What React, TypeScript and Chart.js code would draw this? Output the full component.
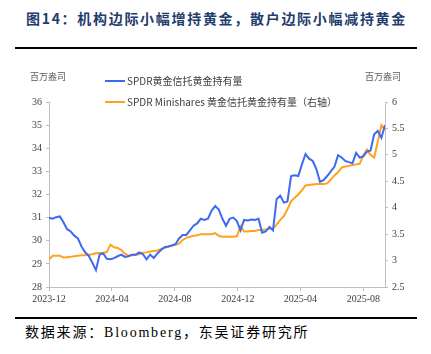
import React, { useEffect, useRef } from "react";
import { Chart, registerables } from "chart.js";

Chart.register(...registerables);

const dates: string[] = [
  "2023-12-01", "2023-12-08", "2023-12-15", "2023-12-22", "2023-12-29",
  "2024-01-05", "2024-01-12", "2024-01-19", "2024-01-26", "2024-02-02", "2024-02-09", "2024-02-16", "2024-02-23",
  "2024-03-01", "2024-03-08", "2024-03-15", "2024-03-22", "2024-03-29", "2024-04-05", "2024-04-12", "2024-04-19",
  "2024-04-26", "2024-05-03", "2024-05-10", "2024-05-17", "2024-05-24", "2024-05-31", "2024-06-07", "2024-06-14",
  "2024-06-21", "2024-06-28", "2024-07-05", "2024-07-12", "2024-07-19", "2024-07-26", "2024-08-02", "2024-08-09",
  "2024-08-16", "2024-08-23", "2024-08-30", "2024-09-06", "2024-09-13", "2024-09-20", "2024-09-27", "2024-10-04",
  "2024-10-11", "2024-10-18", "2024-10-25", "2024-11-01", "2024-11-08", "2024-11-15", "2024-11-22", "2024-11-29",
  "2024-12-06", "2024-12-13", "2024-12-20", "2024-12-27",
  "2025-01-03", "2025-01-10", "2025-01-17", "2025-01-24", "2025-01-31", "2025-02-07", "2025-02-14", "2025-02-21",
  "2025-02-28", "2025-03-07", "2025-03-14", "2025-03-21", "2025-03-28", "2025-04-04", "2025-04-11", "2025-04-18",
  "2025-04-25", "2025-05-02", "2025-05-09", "2025-05-16", "2025-05-23", "2025-05-30", "2025-06-06", "2025-06-13",
  "2025-06-20", "2025-06-27", "2025-07-04", "2025-07-11", "2025-07-18", "2025-07-25", "2025-08-01", "2025-08-08",
  "2025-08-15", "2025-08-22", "2025-08-29", "2025-09-05", "2025-09-12",
];

// SPDR Gold Trust holdings (million oz, left axis)
const gldHoldings: number[] = [
  31.0, 30.95, 31.02, 31.05, 30.8, 30.5, 30.4, 30.22, 30.1, 29.75, 29.5, 29.35, 29.05,
  28.73, 29.4, 29.45, 29.22, 29.2, 29.25, 29.33, 29.4, 29.3, 29.33, 29.4, 29.4, 29.5, 29.42,
  29.2, 29.4, 29.25, 29.45, 29.6, 29.72, 29.75, 29.8, 29.85, 30.1, 30.25, 30.25, 30.45, 30.65,
  30.75, 30.95, 30.9, 30.95, 31.3, 31.5, 31.35, 30.95, 30.65, 30.95, 31.0, 30.85, 30.45, 30.9,
  30.88, 30.92, 30.9, 30.95, 30.35, 30.4, 30.6, 30.45, 31.8, 31.95, 31.65, 31.7, 32.8, 32.83,
  32.8, 33.3, 33.75, 33.55, 33.45, 33.1, 32.55, 32.62, 32.8, 33.0, 33.2, 33.7, 33.6, 33.45,
  33.4, 33.35, 33.8, 33.6, 33.65, 33.85, 33.9, 34.6, 34.75, 34.45, 35.0,
];

// SPDR Gold MiniShares holdings (million oz, right axis)
const gldmHoldings: number[] = [
  3.02, 3.09, 3.09, 3.09, 3.06, 3.065, 3.07, 3.08, 3.09, 3.1, 3.1, 3.11, 3.12,
  3.14, 3.145, 3.15, 3.16, 3.3, 3.25, 3.24, 3.2, 3.13, 3.09, 3.1, 3.11, 3.12, 3.15,
  3.155, 3.17, 3.18, 3.19, 3.22, 3.24, 3.26, 3.28, 3.3, 3.32, 3.39, 3.43, 3.45, 3.47,
  3.48, 3.5, 3.5, 3.5, 3.5, 3.52, 3.47, 3.45, 3.45, 3.45, 3.45, 3.46, 3.65, 3.55,
  3.55, 3.56, 3.56, 3.58, 3.58, 3.59, 3.6, 3.61, 3.68, 3.77, 3.84, 3.97, 4.12, 4.19,
  4.25, 4.33, 4.42, 4.43, 4.44, 4.45, 4.45, 4.45, 4.46, 4.53, 4.61, 4.67, 4.76, 4.78,
  4.79, 4.81, 4.82, 4.83, 5.0, 5.1, 5.0, 4.95, 5.25, 5.56, 5.48,
];

const tickDates: string[] = ["2023-12-01", "2024-04-01", "2024-08-01", "2024-12-01", "2025-04-01", "2025-08-01"];
const tickLabels: string[] = ["2023-12", "2024-04", "2024-08", "2024-12", "2025-04", "2025-08"];

const seriesNames: string[] = ["SPDR黄金信托黄金持有量", "SPDR Minishares 黄金信托黄金持有量（右轴）"];
const unitLabel = "百万盎司";
const titleText = "图14：机构边际小幅增持黄金，散户边际小幅减持黄金";
const sourceText = "数据来源：Bloomberg，东吴证券研究所";

const BLUE = "#3d6af5";
const ORANGE = "#ffa21c";

const DAY = 86400000;
const origin = Date.UTC(2023, 11, 1);
const toDay = (s: string) => {
  const [y, m, d] = s.split("-").map(Number);
  return Math.round((Date.UTC(y, m - 1, d) - origin) / DAY);
};

export default function App() {
  const ref = useRef<HTMLCanvasElement | null>(null);

  useEffect(() => {
    if (!ref.current) return;
    const xs = dates.map(toDay);
    const tickDays = tickDates.map(toDay);

    const overlay = {
      id: "overlay",
      afterDraw(chart: any) {
        const ctx = chart.ctx;
        ctx.save();
        ctx.fillStyle = "#595959";
        ctx.font = '9px "Noto Sans CJK SC"';
        ctx.textBaseline = "middle";
        ctx.textAlign = "left";
        ctx.fillText(unitLabel, 30, 17);
        ctx.fillText(unitLabel, 365, 17);
        const rows = [
          { color: BLUE, y: 21, text: seriesNames[0] },
          { color: ORANGE, y: 42, text: seriesNames[1] },
        ];
        ctx.font = '10px "Noto Sans CJK SC"';
        ctx.fillStyle = "#404040";
        rows.forEach((r) => {
          ctx.strokeStyle = r.color;
          ctx.lineWidth = 2;
          ctx.beginPath();
          ctx.moveTo(105, r.y);
          ctx.lineTo(125, r.y);
          ctx.stroke();
          ctx.fillText(r.text, 127, r.y);
        });
        ctx.restore();
      },
    };

    const tickFont = { family: '"Liberation Serif", serif', size: 10 };
    const axisColor = "#bfbfbf";

    const chart = new Chart(ref.current, {
      type: "line",
      data: {
        datasets: [
          {
            label: seriesNames[0],
            data: xs.map((x, i) => ({ x, y: gldHoldings[i] })),
            borderColor: BLUE,
            backgroundColor: BLUE,
            borderWidth: 2,
            pointRadius: 0,
            yAxisID: "y",
          },
          {
            label: seriesNames[1],
            data: xs.map((x, i) => ({ x, y: gldmHoldings[i] })),
            borderColor: ORANGE,
            backgroundColor: ORANGE,
            borderWidth: 2,
            pointRadius: 0,
            yAxisID: "y1",
          },
        ],
      },
      options: {
        animation: false,
        responsive: false,
        maintainAspectRatio: false,
        layout: { padding: { top: 42, left: 0, right: 0, bottom: 0 } },
        plugins: { legend: { display: false }, tooltip: { enabled: false } },
        scales: {
          x: {
            type: "linear",
            min: 0,
            max: xs[xs.length - 1],
            afterBuildTicks: (scale: any) => {
              scale.ticks = tickDays.map((v) => ({ value: v }));
            },
            afterFit: (scale: any) => {
              scale.height = 28;
            },
            grid: { drawOnChartArea: false, drawTicks: true, tickLength: 4, color: axisColor },
            border: { color: axisColor },
            ticks: {
              autoSkip: false,
              maxRotation: 0,
              padding: 2,
              color: "#404040",
              font: tickFont,
              callback: (v: any) => {
                const i = tickDays.indexOf(Number(v));
                return i >= 0 ? tickLabels[i] : "";
              },
            },
          },
          y: {
            position: "left",
            min: 28,
            max: 36,
            afterFit: (scale: any) => {
              scale.width = 49;
            },
            grid: { drawOnChartArea: false, drawTicks: true, tickLength: 3, color: axisColor },
            border: { color: axisColor },
            ticks: { stepSize: 1, padding: 4, color: "#404040", font: tickFont },
          },
          y1: {
            position: "right",
            min: 2.5,
            max: 6,
            afterFit: (scale: any) => {
              scale.width = 46;
            },
            grid: { drawOnChartArea: false, drawTicks: true, tickLength: 3, color: axisColor },
            border: { color: axisColor },
            ticks: {
              stepSize: 0.5,
              padding: 4,
              color: "#404040",
              font: tickFont,
              callback: (v: any) => String(Number(v)),
            },
          },
        },
      },
      plugins: [overlay],
    } as any);

    return () => chart.destroy();
  }, []);

  return (
    <div style={{ position: "fixed", left: 0, top: 0, width: 431, height: 354, background: "#fff", overflow: "hidden" }}>
      <div
        style={{
          position: "absolute",
          left: 26,
          top: 8,
          fontFamily: '"Noto Sans CJK SC", sans-serif',
          fontWeight: 700,
          fontSize: 14,
          letterSpacing: 1.7,
          color: "#1f3d6e",
          whiteSpace: "nowrap",
          lineHeight: "20px",
        }}
      >
        {titleText}
      </div>
      <div style={{ position: "absolute", left: 15, top: 47, width: 402, height: 2, background: "#000" }} />
      <canvas ref={ref} width={431} height={255} style={{ position: "absolute", left: 0, top: 60, width: 431, height: 255 }} />
      <div style={{ position: "absolute", left: 15, top: 317, width: 402, height: 2, background: "#000" }} />
      <div
        style={{
          position: "absolute",
          left: 25,
          top: 323,
          fontFamily: '"Liberation Serif", "Noto Sans CJK SC", serif',
          fontSize: 14,
          letterSpacing: 1.8,
          color: "#000",
          whiteSpace: "nowrap",
          lineHeight: "20px",
        }}
      >
        {sourceText}
      </div>
    </div>
  );
}
